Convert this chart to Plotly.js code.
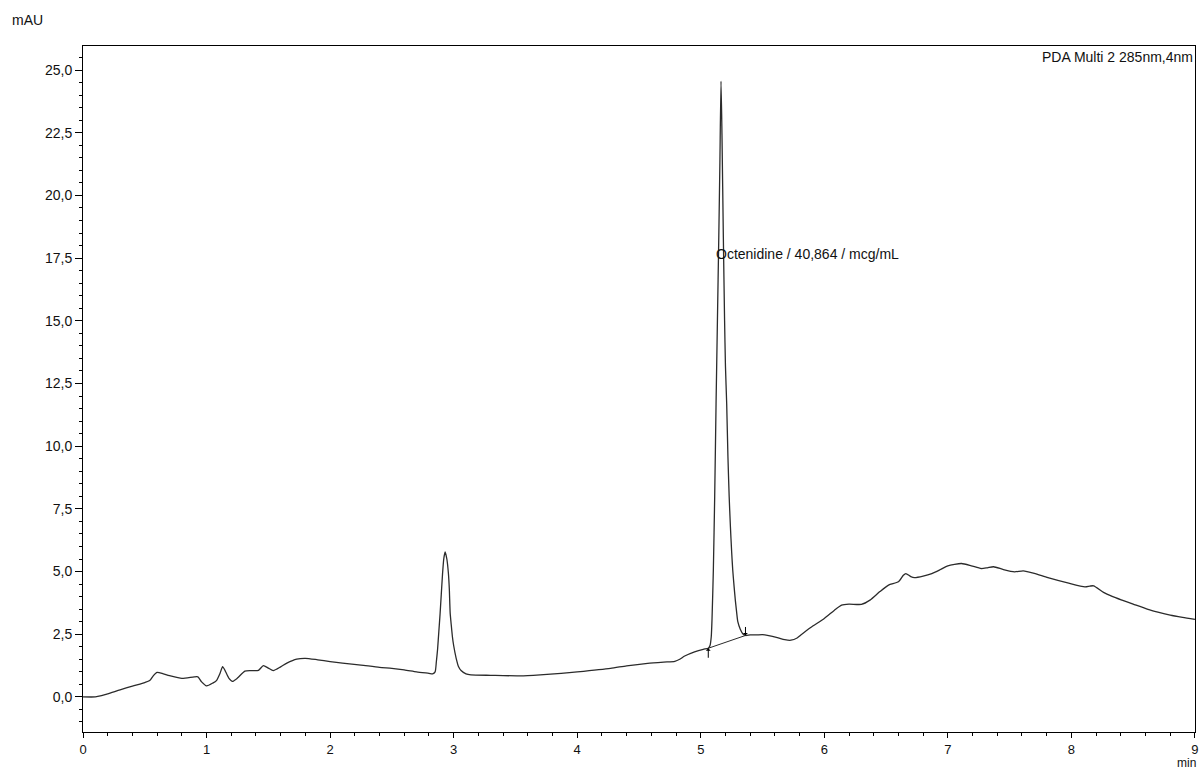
<!DOCTYPE html>
<html>
<head>
<meta charset="utf-8">
<script src="https://cdn.plot.ly/plotly-3.0.1.min.js"></script>
<style>
html,body{margin:0;padding:0;background:#fff;}
#chart{width:1199px;height:771px;}
</style>
</head>
<body>
<div id="chart"></div>
<script>
// Retention time (min)
const timeMin = [
  0.00, 0.10, 0.15, 0.20, 0.30, 0.40, 0.50, 0.54, 0.57, 0.60, 0.65, 0.70, 0.80, 0.90, 0.93, 0.96,
  1.00, 1.05, 1.08, 1.11, 1.13, 1.15, 1.18, 1.21, 1.25, 1.31, 1.36, 1.42, 1.46, 1.50, 1.54, 1.60,
  1.65, 1.73, 1.80, 1.90, 2.00, 2.10, 2.25, 2.40, 2.50, 2.60, 2.70, 2.80, 2.83, 2.85, 2.86, 2.87,
  2.88, 2.89, 2.90, 2.91, 2.92, 2.931, 2.945, 2.958, 2.965, 2.972, 2.98, 2.99, 3.00, 3.02, 3.04, 3.06,
  3.10, 3.14, 3.30, 3.54, 3.70, 3.87, 4.00, 4.27, 4.40, 4.57, 4.70, 4.79, 4.83, 4.87, 4.95, 5.02,
  5.061, 5.075, 5.085, 5.091, 5.102, 5.113, 5.124, 5.135, 5.146, 5.155, 5.164, 5.172, 5.183, 5.193, 5.20, 5.21,
  5.22, 5.23, 5.24, 5.25, 5.259, 5.27, 5.28, 5.29, 5.30, 5.32, 5.34, 5.362, 5.40, 5.45, 5.50, 5.55,
  5.62, 5.68, 5.73, 5.78, 5.81, 5.89, 6.00, 6.08, 6.14, 6.20, 6.30, 6.37, 6.45, 6.52, 6.60, 6.64,
  6.66, 6.70, 6.73, 6.80, 6.87, 6.94, 7.00, 7.11, 7.19, 7.27, 7.32, 7.37, 7.45, 7.54, 7.61, 7.70,
  7.81, 7.97, 8.11, 8.15, 8.18, 8.26, 8.33, 8.41, 8.50, 8.62, 8.70, 8.80, 8.90, 9.00
];
// Absorbance (mAU)
const absMAU = [
  0.00, 0.00, 0.05, 0.12, 0.28, 0.43, 0.57, 0.65, 0.85, 0.98, 0.92, 0.85, 0.74, 0.80, 0.80, 0.60,
  0.44, 0.55, 0.65, 0.95, 1.21, 1.05, 0.75, 0.62, 0.75, 1.03, 1.05, 1.06, 1.25, 1.15, 1.05, 1.20,
  1.35, 1.51, 1.54, 1.48, 1.41, 1.35, 1.27, 1.18, 1.14, 1.08, 1.00, 0.94, 0.92, 1.00, 1.40, 1.90,
  2.60, 3.30, 4.10, 4.90, 5.50, 5.78, 5.50, 4.90, 4.30, 3.33, 2.90, 2.40, 2.05, 1.55, 1.20, 1.05,
  0.92, 0.88, 0.86, 0.84, 0.88, 0.94, 1.00, 1.14, 1.24, 1.34, 1.39, 1.42, 1.50, 1.63, 1.80, 1.90,
  1.94, 2.05, 2.40, 3.07, 5.06, 8.00, 11.69, 15.00, 18.32, 21.30, 24.56, 22.40, 18.32, 15.00, 13.20, 11.69,
  9.60, 8.00, 6.80, 5.80, 5.06, 4.40, 3.85, 3.40, 3.00, 2.70, 2.52, 2.45, 2.47, 2.47, 2.48, 2.44,
  2.36, 2.28, 2.26, 2.35, 2.47, 2.77, 3.13, 3.45, 3.66, 3.70, 3.69, 3.86, 4.20, 4.46, 4.59, 4.85,
  4.92, 4.80, 4.76, 4.82, 4.92, 5.08, 5.23, 5.32, 5.23, 5.12, 5.15, 5.19, 5.08, 4.99, 5.03, 4.93,
  4.76, 4.55, 4.39, 4.42, 4.43, 4.17, 4.01, 3.86, 3.70, 3.49, 3.38, 3.26, 3.17, 3.09
];
// Integration baseline of the Octenidine peak (start, end)
const peakBaseT = [5.061, 5.362];
const peakBaseV = [1.94, 2.45];
// Peak label
const peakLabel = "Octenidine / 40,864 / mcg/mL";
const peakLabelT = 5.105;
const peakLabelV = 17.67;
const detectorLabel = "PDA Multi 2 285nm,4nm";
const yTickVals = [0, 2.5, 5, 7.5, 10, 12.5, 15, 17.5, 20, 22.5, 25];
const yTickText = ["0,0", "2,5", "5,0", "7,5", "10,0", "12,5", "15,0", "17,5", "20,0", "22,5", "25,0"];
const xTickVals = [0, 1, 2, 3, 4, 5, 6, 7, 8, 9];

const FONT = "Liberation Sans, Arial, sans-serif";
const lineCol = "#2b2b2b";

const traces = [
  {x: timeMin, y: absMAU, type: "scatter", mode: "lines",
   line: {color: lineCol, width: 1.3, shape: "spline", smoothing: 0.6}, hoverinfo: "x+y", showlegend: false},
  {x: peakBaseT, y: peakBaseV, type: "scatter", mode: "lines",
   line: {color: lineCol, width: 1}, hoverinfo: "skip", showlegend: false}
];

const layout = {
  width: 1199, height: 771,
  margin: {l: 83, r: 4, t: 46, b: 39, pad: 0},
  paper_bgcolor: "#fff", plot_bgcolor: "#fff",
  font: {family: FONT, size: 14, color: "#111"},
  showlegend: false,
  xaxis: {
    range: [0, 9.0005], showgrid: false, zeroline: false,
    showline: true, linecolor: "#000", linewidth: 1, mirror: true,
    ticks: "outside", ticklen: 5, tickwidth: 1, tickcolor: "#000",
    tickvals: xTickVals, ticktext: xTickVals.map(String),
    ticklabeloverflow: "allow",
    tickfont: {family: FONT, size: 13, color: "#111"},
    minor: {dtick: 0.2, ticks: "outside", ticklen: 3, tickwidth: 1, tickcolor: "#000", showgrid: false}
  },
  yaxis: {
    range: [-1.4, 25.96], showgrid: false, zeroline: false,
    showline: true, linecolor: "#000", linewidth: 1, mirror: true,
    ticks: "outside", ticklen: 7, tickwidth: 1, tickcolor: "#000",
    tickvals: yTickVals, ticktext: yTickText,
    tickfont: {family: FONT, size: 14, color: "#111"},
    minor: {dtick: 0.5, ticks: "outside", ticklen: 3, tickwidth: 1, tickcolor: "#000", showgrid: false}
  },
  annotations: [
    {text: peakLabel, x: peakLabelT, y: peakLabelV, xref: "x", yref: "y",
     xanchor: "left", yanchor: "middle", showarrow: false,
     font: {family: FONT, size: 14, color: "#111"}},
    {text: detectorLabel, x: 1, y: 1, xref: "paper", yref: "paper",
     xanchor: "right", yanchor: "top", showarrow: false, yshift: -1,
     font: {family: FONT, size: 14, color: "#111"}},
    {text: "mAU", x: 0, y: 1, xref: "paper", yref: "paper",
     xanchor: "center", yanchor: "middle", xshift: -56, yshift: 26, showarrow: false,
     font: {family: FONT, size: 14, color: "#111"}},
    {text: "min", x: 1, y: 0, xref: "paper", yref: "paper",
     xanchor: "right", yanchor: "bottom", xshift: 2, yshift: -39, borderpad: 0, showarrow: false,
     font: {family: FONT, size: 12, color: "#111"}},
    {text: "", x: peakBaseT[0], y: peakBaseV[0], xref: "x", yref: "y",
     showarrow: true, ax: 0, ay: 11, arrowhead: 1, arrowsize: 0.8, arrowwidth: 1, arrowcolor: "#000"},
    {text: "", x: peakBaseT[1], y: peakBaseV[1], xref: "x", yref: "y",
     showarrow: true, ax: 0, ay: -10, arrowhead: 1, arrowsize: 0.8, arrowwidth: 1, arrowcolor: "#000"}
  ]
};

Plotly.newPlot("chart", traces, layout, {displayModeBar: false, staticPlot: true});
</script>
</body>
</html>
